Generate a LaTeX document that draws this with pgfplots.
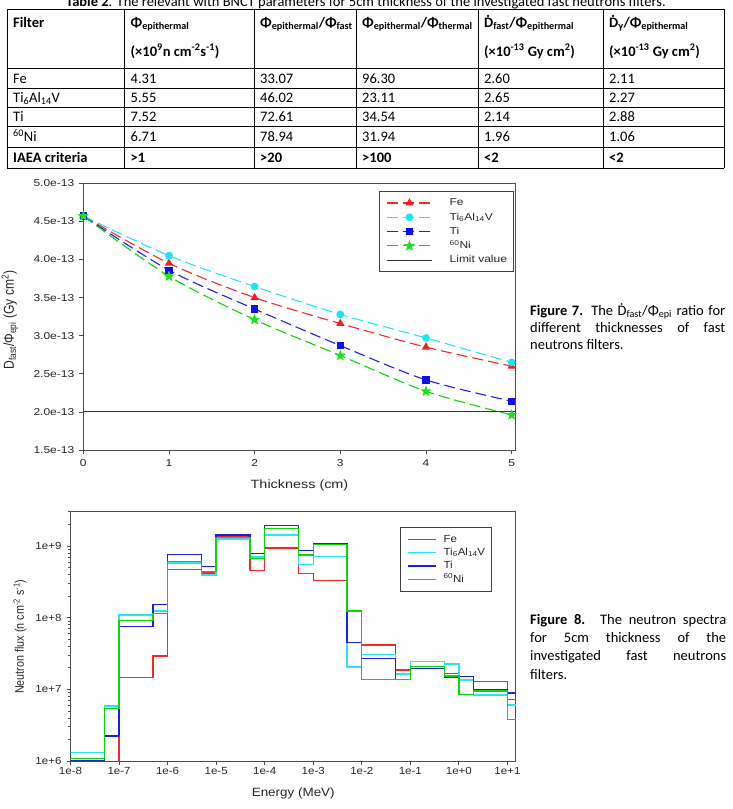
\documentclass[border=0pt]{standalone}
\usepackage{fontspec}
\usepackage{pgfplots}
\pgfplotsset{compat=1.18}
\setmainfont{Carlito}
% plot fonts: Arial-like, slightly widened
\newfontfamily\pfA[FakeStretch=1.2]{Liberation Sans}
\newfontfamily\pfB[FakeStretch=1.12]{Liberation Sans}
\newfontfamily\pfAy[FakeStretch=0.84]{Liberation Sans}
\newfontfamily\pfBy[FakeStretch=0.86]{Liberation Sans}

\definecolor{cFe}{RGB}{255,25,25}
\definecolor{cTAV}{RGB}{25,230,245}
\definecolor{cTi}{RGB}{15,15,245}
\definecolor{cNi}{RGB}{30,225,30}
\definecolor{sFe}{RGB}{245,40,40}
\definecolor{sTAV}{RGB}{40,228,245}
\definecolor{sTi}{RGB}{30,30,230}
\definecolor{sNi}{RGB}{10,215,10}

% D with a dot above (dose rate)
\newcommand{\Dd}{Ḋ}

% filled five-pointed star
\pgfdeclareplotmark{fstar}{%
  \pgfpathmoveto{\pgfpointpolar{90}{\pgfplotmarksize}}%
  \pgfpathlineto{\pgfpointpolar{126}{0.42\pgfplotmarksize}}%
  \pgfpathlineto{\pgfpointpolar{162}{\pgfplotmarksize}}%
  \pgfpathlineto{\pgfpointpolar{198}{0.42\pgfplotmarksize}}%
  \pgfpathlineto{\pgfpointpolar{234}{\pgfplotmarksize}}%
  \pgfpathlineto{\pgfpointpolar{270}{0.42\pgfplotmarksize}}%
  \pgfpathlineto{\pgfpointpolar{306}{\pgfplotmarksize}}%
  \pgfpathlineto{\pgfpointpolar{342}{0.42\pgfplotmarksize}}%
  \pgfpathlineto{\pgfpointpolar{18}{\pgfplotmarksize}}%
  \pgfpathlineto{\pgfpointpolar{54}{0.42\pgfplotmarksize}}%
  \pgfpathclose
  \pgfusepathqfillstroke}

\newcommand{\tf}{\fontsize{14.5}{17.5}\selectfont}

\begin{document}
\begin{tikzpicture}[x=1pt,y=-1pt]
\useasboundingbox (0,0) rectangle (733,809);
\clip (0,0) rectangle (733,809);

% ---------------- table ----------------
\node[anchor=base,inner sep=0] at (366,6) {\tf\textbf{Table 2}. The relevant with BNCT parameters for 5cm thickness of the investigated fast neutrons filters.};

\foreach \y in {9,68.5,88.3,107.5,126.5,147.2}
  \draw[line width=0.8pt] (7,\y) -- (724,\y);
\draw[line width=1.2pt] (7,168.2) -- (724,168.2);
\foreach \x in {7,124.5,254,356,478,603,724}
  \draw[line width=0.8pt] (\x,9) -- (\x,168.2);

\begin{scope}[every node/.style={anchor=base west,inner sep=0,font=\tf}]
\node at (13,27) {\textbf{Filter}};
\node at (130.5,27) {\textbf{Φ\textsubscript{epithermal}}};
\node at (130.5,56) {\textbf{(×10\textsuperscript{9}n cm\textsuperscript{-2}s\textsuperscript{-1})}};
\node at (260,27) {\textbf{Φ\textsubscript{epithermal}/Φ\textsubscript{fast}}};
\node at (362,27) {\textbf{Φ\textsubscript{epithermal}/Φ\textsubscript{thermal}}};
\node at (484,27) {\textbf{\Dd\textsubscript{fast}/Φ\textsubscript{epithermal}}};
\node at (484,56) {\textbf{(×10\textsuperscript{-13} Gy cm\textsuperscript{2})}};
\node at (609,27) {\textbf{\Dd\textsubscript{γ}/Φ\textsubscript{epithermal}}};
\node at (609,56) {\textbf{(×10\textsuperscript{-13} Gy cm\textsuperscript{2})}};
% rows
\node at (13,83.1) {Fe};
\node at (130.5,83.1) {4.31};
\node at (260,83.1) {33.07};
\node at (362,83.1) {96.30};
\node at (484,83.1) {2.60};
\node at (609,83.1) {2.11};
\node at (13,102.6) {Ti\textsubscript{6}Al\textsubscript{14}V};
\node at (130.5,102.6) {5.55};
\node at (260,102.6) {46.02};
\node at (362,102.6) {23.11};
\node at (484,102.6) {2.65};
\node at (609,102.6) {2.27};
\node at (13,121.7) {Ti};
\node at (130.5,121.7) {7.52};
\node at (260,121.7) {72.61};
\node at (362,121.7) {34.54};
\node at (484,121.7) {2.14};
\node at (609,121.7) {2.88};
\node at (13,141.5) {\textsuperscript{60}Ni};
\node at (130.5,141.5) {6.71};
\node at (260,141.5) {78.94};
\node at (362,141.5) {31.94};
\node at (484,141.5) {1.96};
\node at (609,141.5) {1.06};
\node at (13,162.4) {\textbf{IAEA criteria}};
\node at (130.5,162.4) {\textbf{>1}};
\node at (260,162.4) {\textbf{>20}};
\node at (362,162.4) {\textbf{>100}};
\node at (484,162.4) {\textbf{<2}};
\node at (609,162.4) {\textbf{<2}};
\end{scope}

% ---------------- captions ----------------
\node[anchor=north west,inner sep=0,text width=195pt,align=justify,font=\fontsize{14.5}{17.4}\selectfont] at (530,303)
  {\hyphenpenalty=10000\textbf{Figure 7.} The \Dd\textsubscript{fast}/Φ\textsubscript{epi} ratio for\linebreak different thicknesses of fast\linebreak neutrons filters.};
\node[anchor=north west,inner sep=0,text width=196pt,align=justify,font=\fontsize{14.5}{18.3}\selectfont] at (530,614)
  {\hyphenpenalty=10000\textbf{Figure 8.} The neutron spectra\linebreak for 5cm thickness of the\linebreak investigated fast neutrons\linebreak filters.};

% ---------------- Figure 7: ratio vs thickness ----------------
\begin{axis}[
  at={(83.3pt,-450pt)}, anchor=south west,
  scale only axis, width=432.4pt, height=266.7pt,
  xmin=0, xmax=5.047, ymin=1.5e-13, ymax=5.0e-13,
  scaled x ticks=false, scaled y ticks=false,
  xtick={0,1,2,3,4,5}, xticklabels={0,1,2,3,4,5},
  ytick={1.5e-13,2.0e-13,2.5e-13,3.0e-13,3.5e-13,4.0e-13,4.5e-13,5.0e-13},
  yticklabels={1.5e-13,2.0e-13,2.5e-13,3.0e-13,3.5e-13,4.0e-13,4.5e-13,5.0e-13},
  tick pos=left, tick align=outside, major tick length=4pt,
  axis line style={black!70,line width=1pt},
  every tick/.style={black!70,line width=0.8pt},
  ticklabel style={font=\pfA\fontsize{10}{12}\selectfont,text=black!85},
  xticklabel style={yshift=-2pt},
  yticklabel style={xshift=-1.5pt},
  xlabel={Thickness (cm)},
  xlabel style={at={(rel axis cs:0.5,-0.1312)},anchor=center,font=\pfA\fontsize{12}{14}\selectfont,text=black!85},
  ylabel={D\textsubscript{fast}/Φ\textsubscript{epi} (Gy cm\textsuperscript{2})},
  ylabel style={at={(rel axis cs:-0.1695,0.4875)},anchor=center,font=\pfAy\fontsize{14.4}{16}\selectfont,text=black!85},
  legend cell align=left,
  legend style={at={(rel axis cs:0.684,0.971)},anchor=north west,
    draw=black!75,line width=1pt,fill=white,
    inner xsep=6.7pt,inner ysep=7pt,row sep=5.3pt,column sep=17pt,
    nodes={inner sep=0pt,text height=7.2pt,text depth=1.8pt,font=\pfA\fontsize{10}{12}\selectfont,text=black!85}},
  legend image code/.code={\draw[mark repeat=2,mark phase=2] plot coordinates {(0pt,0pt) (22.65pt,0pt) (45.3pt,0pt)};},
]
\addplot[color=sFe,draw=sFe,line width=1.1pt,dash pattern=on 11pt off 5pt,smooth,mark=triangle*,mark size=3.7pt,mark options={solid,fill=cFe,draw=cFe}]
  coordinates {(0,4.57e-13) (1,3.95e-13) (2,3.50e-13) (3,3.16e-13) (4,2.85e-13) (5,2.60e-13)};
\addlegendentry{Fe}
\addplot[color=sTAV,draw=sTAV,line width=1.1pt,dash pattern=on 11pt off 5pt,smooth,mark=*,mark size=3.3pt,mark options={solid,fill=cTAV,draw=cTAV}]
  coordinates {(0,4.57e-13) (1,4.05e-13) (2,3.645e-13) (3,3.28e-13) (4,2.97e-13) (5,2.65e-13)};
\addlegendentry{Ti\textsubscript{6}Al\textsubscript{14}V}
\addplot[color=sTi,draw=sTi,line width=1.1pt,dash pattern=on 11pt off 5pt,smooth,mark=square*,mark size=3.1pt,mark options={solid,fill=cTi,draw=cTi}]
  coordinates {(0,4.57e-13) (1,3.86e-13) (2,3.35e-13) (3,2.87e-13) (4,2.42e-13) (5,2.14e-13)};
\addlegendentry{Ti}
\addplot[color=sNi,draw=sNi,line width=1.1pt,dash pattern=on 11pt off 5pt,smooth,mark=fstar,mark size=4.3pt,mark options={solid,fill=cNi,draw=cNi}]
  coordinates {(0,4.57e-13) (1,3.78e-13) (2,3.21e-13) (3,2.74e-13) (4,2.27e-13) (5,1.96e-13)};
\addlegendentry{\textsuperscript{60}Ni}
\addplot[color=black!80,draw=black!80,line width=0.9pt]
  coordinates {(0,2.0e-13) (5.047,2.0e-13)};
\addlegendentry{Limit value}
\end{axis}

% ---------------- Figure 8: neutron spectra ----------------
\begin{axis}[
  at={(70.5pt,-761pt)}, anchor=south west,
  scale only axis, width=445.5pt, height=249.3pt,
  xmode=log, ymode=log,
  xmin=1e-8, xmax=15, ymin=1e6, ymax=3e9,
  xtick={1e-8,1e-7,1e-6,1e-5,1e-4,1e-3,1e-2,1e-1,1e0,1e1},
  xticklabels={1e-8,1e-7,1e-6,1e-5,1e-4,1e-3,1e-2,1e-1,1e+0,1e+1},
  ytick={1e6,1e7,1e8,1e9},
  yticklabels={1e+6,1e+7,1e+8,1e+9},
  xminorticks=false,
  minor ytick={2e6,3e6,4e6,5e6,6e6,7e6,8e6,9e6,2e7,3e7,4e7,5e7,6e7,7e7,8e7,9e7,2e8,3e8,4e8,5e8,6e8,7e8,8e8,9e8,2e9,3e9},
  tick pos=left, tick align=outside, major tick length=3.5pt, minor tick length=2.2pt,
  axis line style={black!70,line width=1pt},
  every tick/.style={black!70,line width=0.8pt},
  every minor tick/.style={black!70,line width=0.6pt},
  ticklabel style={font=\pfB\fontsize{10.3}{12}\selectfont,text=black!85},
  xticklabel style={yshift=1pt},
  yticklabel style={xshift=-2pt},
  xlabel={Energy (MeV)},
  xlabel style={at={(rel axis cs:0.5,-0.1284)},anchor=center,font=\pfB\fontsize{12}{14}\selectfont,text=black!85},
  ylabel={Neutron flux (n cm\textsuperscript{-2} s\textsuperscript{-1})},
  ylabel style={at={(rel axis cs:-0.1134,0.4986)},anchor=center,font=\pfBy\fontsize{12.5}{14}\selectfont,text=black!85},
  legend cell align=left,
  legend style={at={(rel axis cs:0.7396,0.9374)},anchor=north west,
    draw=black!75,line width=1pt,fill=white,
    inner xsep=6.7pt,inner ysep=7pt,row sep=4.4pt,column sep=6.7pt,
    nodes={inner sep=0pt,text height=7.2pt,text depth=1.8pt,font=\pfB\fontsize{10.3}{12}\selectfont,text=black!85}},
  legend image code/.code={\draw (0pt,0pt) -- (28.3pt,0pt);},
]
\addplot[const plot,color=sFe,draw=sFe,line width=1.4pt] coordinates {
  (1e-8,1e5) (5e-8,1e5) (1e-7,1.45e7) (5e-7,2.9e7) (1e-6,4.7e8) (5e-6,4.2e8)
  (1e-5,1.35e9) (5e-5,4.5e8) (1e-4,9.3e8) (5e-4,4.1e8) (1e-3,3.3e8) (5e-3,2.0e7)
  (1e-2,4.15e7) (5e-2,1.86e7) (1e-1,2.07e7) (5e-1,1.67e7) (1,1.38e7) (2,1.28e7)
  (10,7.2e6) (15,7.2e6)};
\addlegendentry{Fe}
\addplot[const plot,color=sTAV,draw=sTAV,line width=1.4pt] coordinates {
  (1e-8,1.31e6) (5e-8,5.85e6) (1e-7,1.09e8) (5e-7,1.24e8) (1e-6,5.8e8) (5e-6,3.94e8)
  (1e-5,1.25e9) (5e-5,7.0e8) (1e-4,1.42e9) (5e-4,5.5e8) (1e-3,7.1e8) (5e-3,2.05e7)
  (1e-2,3.08e7) (5e-2,1.63e7) (1e-1,2.44e7) (5e-1,2.25e7) (1,1.35e7) (2,8.3e6)
  (10,6.05e6) (15,6.05e6)};
\addlegendentry{Ti\textsubscript{6}Al\textsubscript{14}V}
\addplot[const plot,color=sTi,draw=sTi,line width=1.4pt] coordinates {
  (1e-8,1.02e6) (5e-8,2.23e6) (1e-7,7.5e7) (5e-7,1.53e8) (1e-6,7.6e8) (5e-6,5.2e8)
  (1e-5,1.42e9) (5e-5,7.8e8) (1e-4,1.94e9) (5e-4,8.6e8) (1e-3,1.07e9) (5e-3,4.5e7)
  (1e-2,2.7e7) (5e-2,1.38e7) (1e-1,1.94e7) (5e-1,1.49e7) (1,1.5e7) (2,1.0e7)
  (10,8.9e6) (15,8.9e6)};
\addlegendentry{Ti}
\addplot[const plot,color=sNi,draw=sNi,line width=1.4pt] coordinates {
  (1e-8,1.08e6) (5e-8,5.4e6) (1e-7,9.1e7) (5e-7,1.15e8) (1e-6,6.1e8) (5e-6,4.4e8)
  (1e-5,1.30e9) (5e-5,6.7e8) (1e-4,1.75e9) (5e-4,7.5e8) (1e-3,1.04e9) (5e-3,1.23e8)
  (1e-2,1.38e7) (5e-2,1.38e7) (1e-1,2.07e7) (5e-1,1.53e7) (1,8.5e6) (2,9.5e6)
  (10,3.8e6) (15,3.8e6)};
\addlegendentry{\textsuperscript{60}Ni}
\end{axis}
\end{tikzpicture}
\end{document}
